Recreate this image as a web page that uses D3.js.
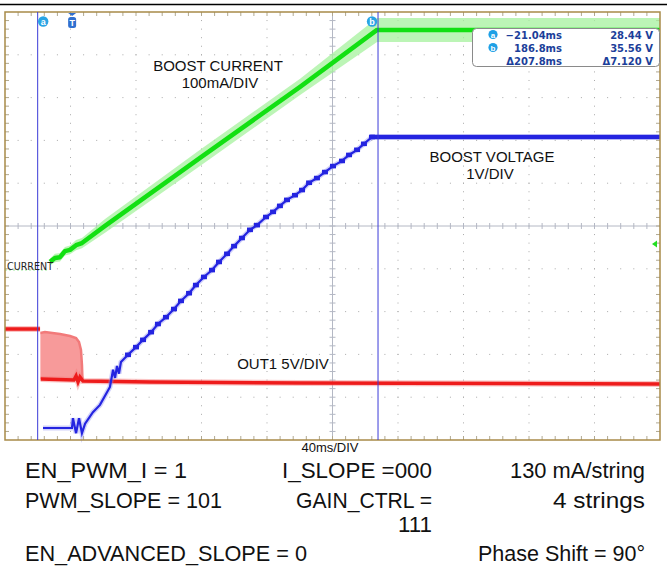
<!DOCTYPE html>
<html><head><meta charset="utf-8">
<script src="https://cdn.jsdelivr.net/npm/d3@7/dist/d3.min.js"></script>
<style>body{margin:0;background:#fff}svg{display:block}text{font-family:"Liberation Sans",Arial,sans-serif}</style>
</head><body>
<svg id="c" width="667" height="568"></svg>
<script>
// ---- data (scope screen: 40 ms/div) ----
const greenTime    = [-41, -14.7, -13.5, -10.5, -7.4, -4.4, -1.3, 2.4, 6.0, 20.1, 78.1, 139.2, 186.2, 359];
const greenCurrent = [0, 0, 19, 28, 30, 44, 47, 58, 63, 103, 262, 428, 561, 561];      // mA, 100 mA/div
const greenNoise   = [0, 0, 8, 10, 10, 10, 10, 12, 12, 16, 19, 19, 28, 28];

const blueRampTime = [-17.8, -0.1, 0.5, 2.4, 4.2, 6.0, 7.9, 12.7, 17.0, 23.1, 25.0, 26.2, 27.4, 28.6, 29.8];
const blueRampVolt = [28.58, 28.58, 28.81, 28.46, 28.81, 28.46, 28.68, 28.95, 29.12, 29.54, 29.94, 29.75, 30.03, 29.85, 30.12];
const blueStepTime = [34.1, 39.0, 43.3, 48.2, 52.4, 57.3, 62.2, 66.5, 71.4, 75.6, 80.5, 85.4, 89.7, 94.6, 98.9, 103.7,
                      108.6, 112.9, 118.4, 122.7, 126.9, 131.2, 136.1, 140.4, 144.7, 149.5, 154.4, 159.3, 164.8, 169.1, 174.0, 178.2, 183.1];
const blueStepVolt = [30.29, 30.47, 30.64, 30.82, 31.01, 31.17, 31.36, 31.55, 31.73, 31.92, 32.11, 32.27, 32.46, 32.65, 32.83, 33.02,
                      33.21, 33.32, 33.51, 33.63, 33.77, 33.91, 34.02, 34.14, 34.31, 34.42, 34.56, 34.70, 34.82, 34.96, 35.08, 35.22, 35.38];
const blueEndTime = [359];
const blueEndVolt = [35.38];

const redPreTime = [-41, -19.6];
const redPreVolt = [12.97, 12.97];
const redTime = [-19.2, 1.1, 2.4, 3.6, 4.8, 6.6, 47.5, 139.2, 359];
const redVolt = [7.13, 7.01, 7.48, 6.78, 7.36, 6.89, 6.78, 6.66, 6.54];   // V, 5 V/div
const burstTime = [-19.4, -16.6, -7.4, -1.3, 2.4, 4.2, 5.4, 6.0, 6.3];
const burstTop  = [12.50, 12.62, 12.38, 12.15, 11.92, 11.45, 10.51, 8.76, 7.13];
const burstBottom = 7.1;

const cursorTime = [-21.04, 186.8];
const cursorNames = ["a", "b"];
const readoutTime = ["\u221221.04ms", "186.8ms", "\u0394207.8ms"];
const readoutVolt = ["28.44 V", "35.56 V", "\u03947.120 V"];

const bottomLines = [
  {t:"EN_PWM_I = 1", x:25, y:478, a:"start", w:162},
  {t:"I_SLOPE =000", x:432, y:478, a:"end", w:150},
  {t:"130 mA/string", x:645, y:478, a:"end", w:135},
  {t:"PWM_SLOPE = 101", x:25, y:508, a:"start", w:197},
  {t:"GAIN_CTRL =", x:432, y:508, a:"end", w:136},
  {t:"4 strings", x:645, y:508, a:"end", w:92},
  {t:"111", x:432, y:532, a:"end", w:34},
  {t:"EN_ADVANCED_SLOPE = 0", x:25, y:561, a:"start", w:282},
  {t:"Phase Shift = 90\u00b0", x:645, y:561, a:"end", w:167}
];

// ---- layout ----
const X0 = 5, X1 = 660, Y0 = 12, Y1 = 440;
const svg = d3.select("#c");
const x = d3.scaleLinear().domain([-41, 359]).range([X0, X1]);
const yGreen = d3.scaleLinear().domain([0, 1000]).range([270, 270 - 428]);
const yBlue = d3.scaleLinear().domain([28.3, 38.3]).range([Y1, Y0]);
const yRed = d3.scaleLinear().domain([0, 50]).range([Y1, Y0]);

// top black rule
svg.append("line").attr("x1",0).attr("x2",667).attr("y1",4.5).attr("y2",4.5).attr("stroke","#000").attr("stroke-width",1.5);

// grid
const g = svg.append("g");
const dx = (X1 - X0) / 10, dy = (Y1 - Y0) / 10;
for (let i = 1; i < 10; i++) {
  if (i === 5) continue;
  const gx = X0 + i * dx;
  for (let j = 1; j < 50; j++) g.append("rect").attr("x", gx - 0.5).attr("y", Y0 + j * dy / 5 - 0.5).attr("width",1).attr("height",1).attr("fill","#aaa");
  const gy = Y0 + i * dy;
  for (let j = 1; j < 50; j++) g.append("rect").attr("x", X0 + j * dx / 5 - 0.5).attr("y", gy - 0.5).attr("width",1).attr("height",1).attr("fill","#aaa");
}
const cx = X0 + 5 * dx, cy = Y0 + 5 * dy;
g.append("line").attr("x1",X0).attr("x2",X1).attr("y1",cy).attr("y2",cy).attr("stroke","#b4b8c4").attr("stroke-width",1);
g.append("line").attr("x1",cx).attr("x2",cx).attr("y1",Y0).attr("y2",Y1).attr("stroke","#b4b8c4").attr("stroke-width",1);
for (let j = 1; j < 50; j++) {
  const tx = X0 + j * dx / 5, ty = Y0 + j * dy / 5;
  g.append("line").attr("x1",tx).attr("x2",tx).attr("y1",cy-3).attr("y2",cy+3).attr("stroke","#b4b8c4");
  g.append("line").attr("x1",cx-3).attr("x2",cx+3).attr("y1",ty).attr("y2",ty).attr("stroke","#b4b8c4");
  g.append("line").attr("x1",tx).attr("x2",tx).attr("y1",Y0).attr("y2",Y0+4).attr("stroke","#b0a890");
  g.append("line").attr("x1",tx).attr("x2",tx).attr("y1",Y1-4).attr("y2",Y1).attr("stroke","#b0a890");
  g.append("line").attr("x1",X0).attr("x2",X0+4).attr("y1",ty).attr("y2",ty).attr("stroke","#b0a890");
  g.append("line").attr("x1",X1-4).attr("x2",X1).attr("y1",ty).attr("y2",ty).attr("stroke","#b0a890");
}

// ---- traces ----
// red burst
const burst = burstTime.map((t,i)=>({t, v:burstTop[i]}));
svg.append("path").datum(burst)
  .attr("d", d3.area().x(d=>x(d.t)).y0(yRed(burstBottom)).y1(d=>yRed(d.v)))
  .attr("fill","#f79a9a");
svg.append("path").datum(burst).attr("d", d3.line().x(d=>x(d.t)).y(d=>yRed(d.v)))
  .attr("fill","none").attr("stroke","#f27a7a").attr("stroke-width",2.5);
const redLine = d3.line().x(d=>x(d.t)).y(d=>yRed(d.v));
const redPre = redPreTime.map((t,i)=>({t, v:redPreVolt[i]}));
const red = redTime.map((t,i)=>({t, v:redVolt[i]}));
[redPre, red].forEach(seg=>{
  svg.append("path").datum(seg).attr("d", redLine).attr("fill","none").attr("stroke","#f47c7c").attr("stroke-width",6).attr("stroke-opacity",0.45);
  svg.append("path").datum(seg).attr("d", redLine).attr("fill","none").attr("stroke","#ee1b1b").attr("stroke-width",3.5);
});

// green
const green = greenTime.map((t,i)=>({t, v:greenCurrent[i], n:greenNoise[i]}));
const greenActive = green.slice(2);
svg.append("path").datum(green.slice(0,2)).attr("d", d3.line().x(d=>x(d.t)).y(d=>yGreen(d.v)))
  .attr("stroke","#9be89b").attr("stroke-width",1.2).attr("fill","none").attr("stroke-dasharray","2,2");
svg.append("path").datum(greenActive)
  .attr("d", d3.area().x(d=>x(d.t)).y0(d=>yGreen(d.v - d.n)).y1(d=>yGreen(d.v + d.n)))
  .attr("fill","#a6f29e").attr("opacity",0.75);
svg.append("path").datum(greenActive).attr("d", d3.line().x(d=>x(d.t)).y(d=>yGreen(d.v)))
  .attr("stroke","#12e012").attr("stroke-width",4.5).attr("fill","none").attr("stroke-linejoin","round");

// blue
const bluePts = [];
blueRampTime.forEach((t,i)=>bluePts.push({t, v:blueRampVolt[i]}));
blueStepTime.forEach((t,i)=>bluePts.push({t, v:blueStepVolt[i]}));
blueEndTime.forEach((t,i)=>bluePts.push({t, v:blueEndVolt[i]}));
const blueLine = d3.line().x(d=>x(d.t)).y(d=>yBlue(d.v));
svg.append("path").datum(bluePts).attr("d", blueLine).attr("fill","none").attr("stroke","#8c8cf2").attr("stroke-width",5).attr("stroke-opacity",0.4);
svg.append("path").datum(bluePts).attr("d", blueLine).attr("fill","none").attr("stroke","#2424e0").attr("stroke-width",2.2);
svg.selectAll(".step").data(blueStepTime).enter().append("line")
  .attr("x1",(t)=>x(t)-3).attr("x2",(t)=>x(t)+3)
  .attr("y1",(t,i)=>yBlue(blueStepVolt[i])).attr("y2",(t,i)=>yBlue(blueStepVolt[i]))
  .attr("stroke","#2424e0").attr("stroke-width",4.6);
svg.append("line").attr("x1",x(blueStepTime[blueStepTime.length-1])-2).attr("x2",X1)
  .attr("y1",yBlue(blueEndVolt[0])).attr("y2",yBlue(blueEndVolt[0])).attr("stroke","#2424e0").attr("stroke-width",4.5);

// border
svg.append("rect").attr("x",X0).attr("y",Y0).attr("width",X1-X0).attr("height",Y1-Y0)
  .attr("fill","none").attr("stroke","#a88a48").attr("stroke-width",1.5);

// cursors
cursorTime.forEach((t,i)=>{
  svg.append("line").attr("x1",x(t)).attr("x2",x(t)).attr("y1",Y0).attr("y2",Y1).attr("stroke","#3a3ad8").attr("stroke-width",1);
  const lx = i===0 ? x(t)+5.5 : x(t)-6;
  svg.append("circle").attr("cx",lx).attr("cy",21.5).attr("r",5.2).attr("fill","#29a4e4");
  svg.append("text").attr("x",lx).attr("y",24.8).attr("text-anchor","middle").attr("fill","#fff")
    .attr("font-size",9).attr("font-weight","bold").text(cursorNames[i]);
});
// trigger marker
const tx0 = x(0);
svg.append("path").attr("d",`M${tx0-4},${Y0+1}L${tx0+4},${Y0+1}L${tx0},${Y0+4}Z`).attr("fill","#2f6fd0");
svg.append("rect").attr("x",tx0-4).attr("y",Y0+5).attr("width",8).attr("height",11).attr("rx",2.5).attr("fill","#2f6fd0");
svg.append("text").attr("x",tx0).attr("y",Y0+14).attr("text-anchor","middle").attr("fill","#fff").attr("font-size",9).attr("font-weight","bold").text("T");

// green level marker on the right
svg.append("path").attr("d","M652,244L657,240.5L657,247.5Z").attr("fill","#22dd22");

// readout box
svg.append("rect").attr("x",472.5).attr("y",28.5).attr("width",187).attr("height",38).attr("rx",4)
  .attr("fill","#fff").attr("stroke","#8a8a8a").attr("stroke-width",1);
[0,1,2].forEach(r=>{
  const by = 38.5 + r*13;
  if (r<2) {
    svg.append("circle").attr("cx",493).attr("cy",by-4).attr("r",4.6).attr("fill","#1ea0e6");
    svg.append("text").attr("x",493).attr("y",by-1).attr("text-anchor","middle").attr("fill","#fff").attr("font-size",8).attr("font-weight","bold").text(cursorNames[r]);
  }
  svg.append("text").attr("x",562).attr("y",by).attr("text-anchor","end").attr("fill","#1c3f9a")
    .style("font-family","'DejaVu Sans',sans-serif").attr("font-size",10).attr("font-weight","bold").text(readoutTime[r]);
  svg.append("text").attr("x",653).attr("y",by).attr("text-anchor","end").attr("fill","#1c3f9a")
    .style("font-family","'DejaVu Sans',sans-serif").attr("font-size",10).attr("font-weight","bold").text(readoutVolt[r]);
});

// labels
const lab = (t, xx, yy, fs, anchor) => svg.append("text").attr("x",xx).attr("y",yy).attr("font-size",fs)
  .attr("text-anchor",anchor||"middle").attr("fill","#111").text(t);
lab("BOOST CURRENT", 218, 71, 15);
lab("100mA/DIV", 220, 88, 15);
lab("BOOST VOLTAGE", 492, 162, 15);
lab("1V/DIV", 490, 179, 15);
lab("OUT1 5V/DIV", 283, 369, 15);
lab("CURRENT", 7, 269.5, 10.5, "start").attr("fill","#222").style("font-family","'DejaVu Sans',sans-serif").attr("textLength",46).attr("lengthAdjust","spacingAndGlyphs");
lab("40ms/DIV", 330, 452, 13);

bottomLines.forEach(b=>{
  svg.append("text").attr("x",b.x).attr("y",b.y).attr("text-anchor",b.a).attr("font-size",22)
    .attr("textLength",b.w).attr("lengthAdjust","spacingAndGlyphs").attr("fill","#111").text(b.t);
});
</script>
</body></html>
